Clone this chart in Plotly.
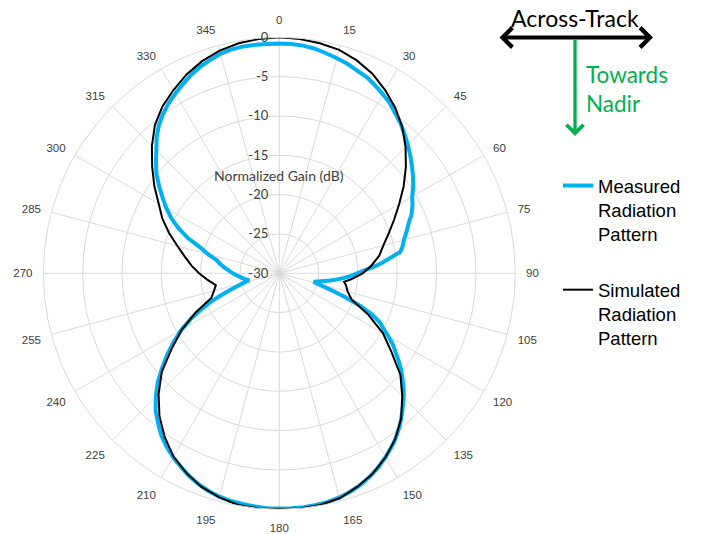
import plotly.graph_objects as go

# Simulated radiation pattern (angle in degrees, normalized gain in dB)
sim_theta = [0, 5, 10, 15, 20, 25, 30, 35, 40, 45, 50, 55, 60, 65, 70, 75, 80, 85, 90, 95,
             97.5, 100, 105, 110, 115, 120, 125, 130, 135, 140, 145, 150, 155, 160, 165, 170,
             175, 180, 185, 190, 195, 200, 205, 210, 215, 220, 225, 230, 235, 240, 245, 250,
             255, 259.5, 265, 270, 275, 280, 285, 290, 295, 300, 305, 310, 315, 320, 325, 330,
             335, 340, 345, 350, 355, 360]
sim_gain = [0.0, -0.1, -0.3, -0.6, -1.2, -2.0, -3.1, -4.3, -5.7, -7.3, -9.0, -10.7, -12.4,
            -13.9, -15.2, -16.3, -17.1, -18.2, -19.4, -20.9, -21.7, -21.4, -21.0, -20.2, -17.5,
            -14.8, -12.6, -9.9, -7.9, -5.9, -4.3, -3.0, -1.9, -1.1, -0.4, -0.1, 0.0, 0.0, 0.0,
            -0.1, -0.5, -1.1, -2.0, -3.1, -4.6, -6.3, -8.3, -10.5, -13.3, -15.7, -18.3, -20.8,
            -21.4, -21.8, -20.8, -19.8, -18.8, -17.8, -16.6, -15.1, -13.6, -12.3, -10.6, -8.9,
            -7.1, -5.4, -4.1, -3.1, -2.1, -1.3, -0.7, -0.3, -0.1, 0.0]

# Measured radiation pattern
meas_theta = [0, 3, 6, 9, 12, 15, 18, 21, 24, 27, 30, 33, 36, 39, 42, 45, 48, 51, 54, 57,
              60, 63, 66, 69, 72, 75, 78, 80, 82, 84, 86, 88, 90, 92, 94, 96, 98, 100, 102,
              104, 106, 108, 110, 112, 114, 116, 118, 120, 122, 124, 126, 128, 130, 132, 134,
              136, 138, 140, 142, 144, 146, 148, 150, 153, 156, 159, 162, 165, 168, 171, 174,
              177, 180, 183, 186, 189, 192, 195, 198, 201, 204, 207, 210, 213, 216, 219, 222,
              225, 228, 231, 234, 237, 240, 243, 245, 247, 249, 251, 253, 255, 257, 258, 261,
              264, 267, 270, 273, 276, 279, 282, 285, 288, 291, 294, 297, 300, 303, 306, 309,
              312, 315, 318, 321, 324, 327, 330, 333, 336, 339, 342, 345, 348, 351, 354, 357, 360]
meas_gain = [-0.8, -0.8, -0.9, -1.1, -1.4, -1.7, -2.0, -2.4, -2.7, -3.2, -3.7, -4.2, -4.9,
             -5.5, -6.2, -6.9, -7.6, -8.3, -9.0, -9.7, -10.5, -11.0, -11.6, -12.4, -13.0,
             -13.6, -14.0, -14.4, -15.7, -16.8, -17.9, -19.2, -20.1, -20.9, -21.7, -22.6,
             -23.5, -24.3, -25.0, -25.5, -24.6, -23.0, -21.0, -18.8, -17.1, -15.8, -15.0,
             -14.0, -13.0, -12.2, -11.3, -10.4, -9.6, -8.8, -8.0, -7.3, -6.6, -5.9, -5.2,
             -4.6, -4.0, -3.5, -3.0, -2.3, -1.7, -1.2, -0.8, -0.5, -0.3, -0.2, -0.1, -0.1,
             -0.1, -0.1, -0.2, -0.3, -0.4, -0.6, -0.9, -1.3, -1.8, -2.4, -3.0, -3.7, -4.5,
             -5.5, -6.5, -7.8, -9.2, -10.8, -12.4, -14.0, -15.6, -17.5, -19.0, -20.3, -21.8,
             -23.2, -24.4, -25.3, -26.1, -25.9, -25.5, -25.1, -24.6, -24.1, -23.6, -23.0,
             -22.4, -21.8, -20.6, -19.5, -17.6, -16.0, -14.6, -13.4, -12.3, -11.1, -9.9,
             -8.9, -7.9, -6.7, -5.7, -4.9, -4.2, -3.6, -3.0, -2.4, -1.9, -1.5, -1.1, -0.9,
             -0.8, -0.8, -0.8, -0.8]

angle_ticks = list(range(0, 360, 15))
angle_labels = [str(a) for a in angle_ticks]
gain_ticks = [-30, -25, -20, -15, -10, -5, 0]
gain_labels = [str(g) for g in gain_ticks]

W, H = 704, 534
GRID = "#d9d9d9"
TXT = "#404040"

fig = go.Figure()
fig.add_trace(go.Scatterpolar(
    r=meas_gain, theta=meas_theta, mode="lines",
    line=dict(color="#00b0f0", width=4),
    name="Measured<br>Radiation<br>Pattern", legendgroup="meas"))
fig.add_trace(go.Scatterpolar(
    r=sim_gain, theta=sim_theta, mode="lines",
    line=dict(color="black", width=2),
    name="Simulated<br>Radiation<br>Pattern", legendgroup="sim"))

# polar area: centre (279, 273), radius 236 px
cx, cy, rad = 279.3, 273.3, 236
fig.update_layout(
    width=W, height=H,
    margin=dict(l=0, r=0, t=0, b=0),
    paper_bgcolor="white",
    polar=dict(
        domain=dict(x=[(cx - rad) / W, (cx + rad) / W],
                    y=[1 - (cy + rad) / H, 1 - (cy - rad) / H]),
        bgcolor="white",
        angularaxis=dict(
            rotation=90, direction="clockwise",
            tickmode="array", tickvals=angle_ticks, ticktext=angle_labels,
            ticks="outside", ticklen=8, tickcolor="rgba(0,0,0,0)",
            showline=True, linecolor=GRID, linewidth=1,
            gridcolor=GRID, gridwidth=1,
            tickfont=dict(family="Liberation Sans, Arial", size=11.5, color=TXT)),
        radialaxis=dict(
            range=[-30, 0], tickmode="array", tickvals=gain_ticks, ticktext=gain_labels,
            angle=90, tickangle=90, side="counterclockwise",
            ticks="outside", ticklen=6, tickcolor="rgba(0,0,0,0)", showline=False,
            gridcolor=GRID, gridwidth=1,
            tickfont=dict(family="Lato, Calibri", size=13, color=TXT)),
    ),
    legend=dict(
        x=558 / W, y=1 - 167 / H, xanchor="left", yanchor="top",
        valign="top", tracegroupgap=29,
        font=dict(family="Liberation Sans, Arial", size=18.5, color="black"),
        bgcolor="rgba(0,0,0,0)"),
    showlegend=True,
)

annotations = [
    dict(text="Normalized Gain (dB)", x=279 / W, y=1 - 175 / H, xref="paper", yref="paper",
         xanchor="center", yanchor="middle", showarrow=False,
         font=dict(family="Lato, Calibri", size=14, color=TXT)),
    dict(text="Across-Track", x=575 / W, y=1 - 18 / H, xref="paper", yref="paper",
         xanchor="center", yanchor="middle", showarrow=False,
         font=dict(family="Lato, Calibri", size=23, color="black")),
    dict(text="Towards<br>Nadir", x=584 / W, y=1 - 89 / H, xref="paper", yref="paper",
         xanchor="left", yanchor="middle", align="left", showarrow=False,
         font=dict(family="Lato, Calibri", size=22.5, color="#00b050")),
    # across-track double-headed arrow
    dict(text="", x=653 / W, y=1 - 37.5 / H, xref="paper", yref="paper",
         ax=-155, ay=0, showarrow=True, arrowside="end+start",
         arrowhead=4, startarrowhead=4, arrowsize=1, startarrowsize=1,
         arrowwidth=3.8, arrowcolor="black"),
    # nadir arrow
    dict(text="", x=575 / W, y=1 - 136 / H, xref="paper", yref="paper",
         ax=0, ay=-98, showarrow=True, arrowhead=4, arrowsize=1,
         arrowwidth=3.3, arrowcolor="#00b050"),
]
fig.update_layout(annotations=annotations)

fig.write_html("out.html")
